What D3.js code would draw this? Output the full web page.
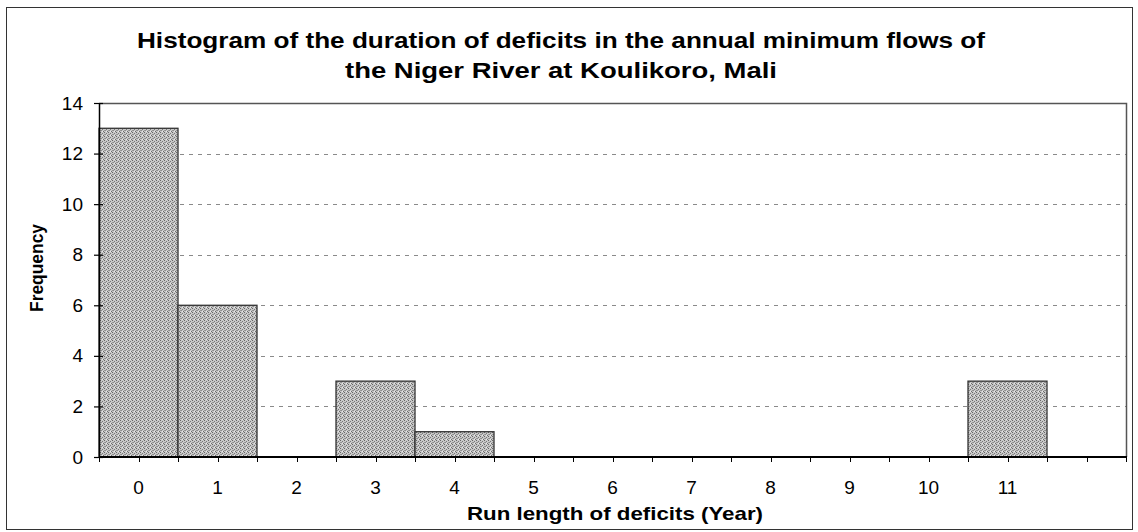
<!DOCTYPE html>
<html>
<head>
<meta charset="utf-8">
<script src="https://cdn.jsdelivr.net/npm/d3@7"></script>
<style>
  html, body { margin: 0; padding: 0; background: #fff; }
  svg { display: block; }
  text { font-family: Arial, "Liberation Sans", sans-serif; fill: #000; }
</style>
</head>
<body>
<svg id="chart" width="1138" height="532"></svg>
<script>
// ---- data ----
const categories = ["0","1","2","3","4","5","6","7","8","9","10","11"];
const frequencies = [13, 6, 0, 3, 1, 0, 0, 0, 0, 0, 0, 3];
const yTicks = [0, 2, 4, 6, 8, 10, 12, 14];
const titleLines = ["Histogram of  the duration of deficits in the annual minimum flows of",
                    "the Niger River at Koulikoro, Mali"];
const xLabel = "Run length of deficits (Year)";
const yLabel = "Frequency";

// ---- layout ----
const plot = { left: 99, right: 1126, top: 103, bottom: 457 };
const svg = d3.select("#chart");
const FONT = "Arial, 'Liberation Sans', sans-serif";

// outer border
svg.append("rect").attr("x", 6.5).attr("y", 7.5).attr("width", 1126).attr("height", 522)
  .attr("fill", "#fff").attr("stroke", "#333").attr("stroke-width", 1);

// pattern to mimic the stippled fill
const defs = svg.append("defs");
const pat = defs.append("pattern").attr("id", "stipple")
  .attr("width", 4).attr("height", 4).attr("patternUnits", "userSpaceOnUse");
pat.append("rect").attr("width", 4).attr("height", 4).attr("fill", "#c8c8c8");
[[0,0,"#666"],[2,1,"#777"],[1,2,"#8a8a8a"],[3,3,"#6e6e6e"],[2,3,"#e8e8e8"],[0,2,"#999"]].forEach(([px,py,c]) =>
  pat.append("rect").attr("x", px).attr("y", py).attr("width", 1).attr("height", 1).attr("fill", c));

// scales: 13 bands (12 categories + one empty slot)
const domainX = categories.concat(["__pad"]);
const x = d3.scaleBand().domain(domainX).range([plot.left, plot.right]).padding(0);
const y = d3.scaleLinear().domain([0, 14]).range([plot.bottom, plot.top]);

// gridlines
svg.append("g").selectAll("line").data(yTicks.filter(t => t > 0 && t < 14)).join("line")
  .attr("x1", plot.left).attr("x2", plot.right)
  .attr("y1", d => Math.round(y(d)) + 0.5).attr("y2", d => Math.round(y(d)) + 0.5)
  .attr("stroke", "#8a8a8a").attr("stroke-width", 1).attr("stroke-dasharray", "4,5");

// plot area top & right border
svg.append("path")
  .attr("d", `M${plot.left},${plot.top + 0.5}H${plot.right + 0.5}V${plot.bottom}`)
  .attr("fill", "none").attr("stroke", "#555").attr("stroke-width", 1.5);

// bars
const data = categories.map((c, i) => ({ c, v: frequencies[i] }));
svg.append("g").selectAll("rect").data(data.filter(d => d.v > 0)).join("rect")
  .attr("x", d => x(d.c))
  .attr("y", d => y(d.v))
  .attr("width", x.bandwidth())
  .attr("height", d => y(0) - y(d.v))
  .attr("fill", "url(#stipple)")
  .attr("stroke", "#333").attr("stroke-width", 1.3);

// y axis
const yAxis = d3.axisLeft(y).tickValues(yTicks).tickSize(0).tickPadding(16);
const gy = svg.append("g").attr("transform", `translate(${plot.left},0)`).call(yAxis)
  .attr("font-size", 19).attr("font-family", FONT);
gy.select(".domain").attr("stroke", "#000").attr("stroke-width", 1.5);
gy.selectAll(".tick text").attr("fill", "#000");
gy.selectAll(".tick").append("line").attr("x1", -5).attr("x2", 4).attr("stroke", "#000").attr("stroke-width", 1.2);

// x axis
const xAxis = d3.axisBottom(x).tickValues(categories).tickSize(0).tickPadding(24);
const gx = svg.append("g").attr("transform", `translate(0,${plot.bottom})`).call(xAxis)
  .attr("font-size", 19).attr("font-family", FONT);
gx.select(".domain").remove();
gx.selectAll(".tick text").attr("fill", "#000");
// band boundary ticks and center ticks
const bounds = domainX.map(d => x(d)).concat([plot.right]);
const centers = domainX.map(d => x(d) + x.bandwidth() / 2);
gx.append("g").selectAll("line").data(bounds.concat(centers)).join("line")
  .attr("x1", d => Math.round(d) + 0.5).attr("x2", d => Math.round(d) + 0.5)
  .attr("y1", -1).attr("y2", 5).attr("stroke", "#000").attr("stroke-width", 1);
gx.append("line").attr("x1", plot.left).attr("x2", plot.right + 0.5).attr("y1", 0).attr("y2", 0)
  .attr("stroke", "#000").attr("stroke-width", 2);

// titles
const tcx = 561;
svg.append("text").attr("x", tcx).attr("y", 48).attr("text-anchor", "middle")
  .attr("font-size", 22).attr("font-weight", "bold")
  .attr("textLength", 848).attr("lengthAdjust", "spacingAndGlyphs").text(titleLines[0]);
svg.append("text").attr("x", tcx).attr("y", 78).attr("text-anchor", "middle")
  .attr("font-size", 22).attr("font-weight", "bold")
  .attr("textLength", 432).attr("lengthAdjust", "spacingAndGlyphs").text(titleLines[1]);

svg.append("text").attr("x", 615).attr("y", 520).attr("text-anchor", "middle")
  .attr("font-size", 18.5).attr("font-weight", "bold")
  .attr("textLength", 296).attr("lengthAdjust", "spacingAndGlyphs").text(xLabel);

svg.append("text").attr("transform", `translate(43,268) rotate(-90)`)
  .attr("text-anchor", "middle").attr("font-size", 17.5).attr("font-weight", "bold")
  .attr("textLength", 88).attr("lengthAdjust", "spacingAndGlyphs").text(yLabel);
</script>
</body>
</html>
